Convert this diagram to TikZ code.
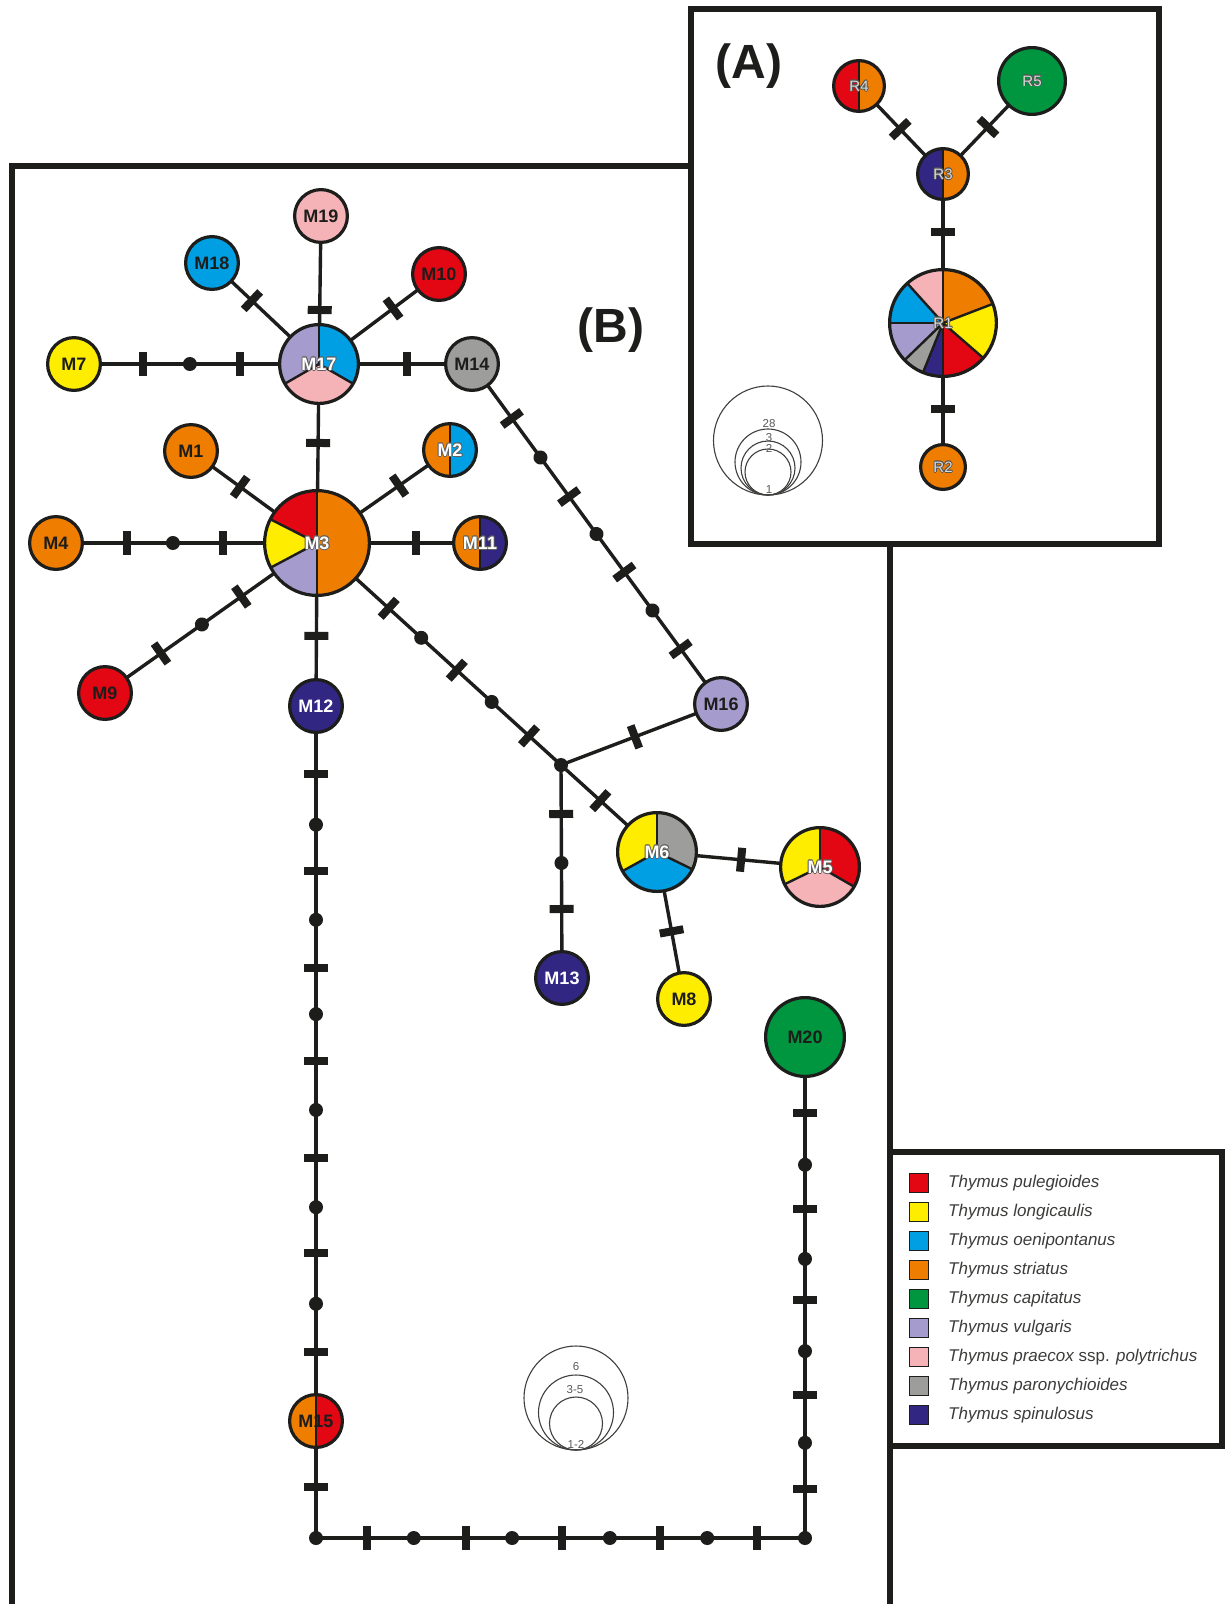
\documentclass[tikz,border=0pt]{standalone}
\usepackage{fontspec}
\setmainfont{Liberation Sans}
\usetikzlibrary{decorations.markings}
\pgfdeclarelayer{bg}
\pgfsetlayers{bg,main}
\definecolor{ink}{HTML}{1D1D1B}
\definecolor{cred}{HTML}{E30613}
\definecolor{cyel}{HTML}{FFED00}
\definecolor{cblue}{HTML}{009FE3}
\definecolor{cora}{HTML}{EF7D00}
\definecolor{cgreen}{HTML}{009640}
\definecolor{clav}{HTML}{A59CCD}
\definecolor{cpink}{HTML}{F5B3B8}
\definecolor{cgray}{HTML}{9D9D9C}
\definecolor{cnavy}{HTML}{312783}
\definecolor{legtext}{HTML}{3C3C3B}
\newcommand\halo[3]{%
  \setbox0=\hbox{#3}%
  \leavevmode\hbox to \wd0{%
    \rlap{\color{#1}\kern.9pt\copy0}%
    \rlap{\color{#1}\kern-.9pt\copy0}%
    \rlap{\color{#1}\raise.9pt\copy0}%
    \rlap{\color{#1}\lower.9pt\copy0}%
    \rlap{\color{#1}\kern.65pt\raise.65pt\copy0}%
    \rlap{\color{#1}\kern-.65pt\raise.65pt\copy0}%
    \rlap{\color{#1}\kern.65pt\lower.65pt\copy0}%
    \rlap{\color{#1}\kern-.65pt\lower.65pt\copy0}%
    \rlap{\color{#2}\copy0}\hfil}}
\begin{document}
\begin{tikzpicture}[x=1pt,y=-1pt,
  hap/.style={circle, draw=ink, line width=3.2pt, inner sep=0pt,
    font=\fontsize{18}{18}\selectfont\bfseries, text=ink},
  sm/.style={minimum size=52.8pt},
  md/.style={minimum size=78.8pt},
  bigm/.style={minimum size=104.8pt},
  rsm/.style={minimum size=50.8pt, font=\fontsize{15}{15}\selectfont},
  rbig/.style={minimum size=106.8pt, font=\fontsize{15}{15}\selectfont},
  rfive/.style={minimum size=66.8pt, font=\fontsize{15}{15}\selectfont},
  rtwo/.style={minimum size=44.8pt, font=\fontsize{15}{15}\selectfont},
  pie/.style={path picture={
    \foreach \sa/\sb/\sc in {#1} {
      \fill[\sc] (path picture bounding box.center) -- ++(\sa:80pt)
        arc[start angle=\sa, end angle=\sb, radius=80pt] -- cycle;}
    \foreach \sa/\sb/\sc in {#1} {
      \draw[ink, line width=2.4pt] (path picture bounding box.center) -- ++(\sa:80pt);}
  }},
  jdot/.style={circle, fill=ink, inner sep=0pt, minimum size=14pt},
  edge/.style={draw=ink, line width=3.4pt},
  barat/.style={postaction={decorate, decoration={markings,
    mark=at position #1 with {\fill[ink] (-4pt,-12pt) rectangle (4pt,12pt);}}}},
  dotat/.style={postaction={decorate, decoration={markings,
    mark=at position #1 with {\fill[ink] (0pt,0pt) circle[radius=7pt];}}}},
  boxl/.style={draw=ink, line width=5.5pt},
  lc/.style={draw=ink!85, line width=1.1pt},
  sizelab/.style={font=\fontsize{11.5}{12}\selectfont, text=black!65, inner sep=0pt},
  lsq/.style={draw=ink, line width=1.5pt, minimum size=19pt, inner sep=0pt},
  ltxt/.style={anchor=west, inner sep=0pt, text=legtext,
    font=\fontsize{17}{17}\selectfont\itshape},
  panel/.style={font=\fontsize{48}{48}\selectfont\bfseries, text=ink, inner sep=0pt}
]
\useasboundingbox (0,0) rectangle (1226,1604);
\begin{pgfonlayer}{bg}
\fill[white] (0,0) rectangle (1226,1604);
\end{pgfonlayer}

% ---------- frames ----------
\draw[boxl] (12,1604) -- (12,166) -- (691,166);
\draw[boxl] (691,9) rectangle (1159,544);
\draw[boxl] (890,544) -- (890,1604);
\draw[boxl] (890,1152) rectangle (1222,1446);

\node[panel] (labA) at (749,66) {(A)};
\node[panel] (labB) at (611,330) {(B)};

% ---------- panel B haplotypes ----------
\node[hap,sm,fill=cpink] (M19) at (321,216) {M19};
\node[hap,sm,fill=cblue] (M18) at (212,263) {M18};
\node[hap,sm,fill=cred] (M10) at (439,274) {M10};
\node[hap,sm,fill=cyel] (M7) at (74,364) {M7};
\node[hap,md,pie={90/210/clav,210/330/cpink,330/450/cblue}] (M17) at (319,364) {\halo{ink!70}{white}{M17}};
\node[hap,sm,fill=cgray] (M14) at (472,364) {M14};
\node[hap,sm,fill=cora] (M1) at (191,451) {M1};
\node[hap,sm,pie={90/270/cora,270/450/cblue}] (M2) at (450,450) {\halo{ink!70}{white}{M2}};
\node[hap,bigm,pie={90/153/cred,153/208/cyel,208/270/clav,270/450/cora}] (M3) at (317,543) {\halo{ink!70}{white}{M3}};
\node[hap,sm,fill=cora] (M4) at (56,543) {M4};
\node[hap,sm,pie={90/270/cora,270/450/cnavy}] (M11) at (480,543) {\halo{ink!70}{white}{M11}};
\node[hap,sm,fill=cred] (M9) at (105,693) {M9};
\node[hap,sm,fill=cnavy,text=white] (M12) at (316,706) {M12};
\node[hap,sm,fill=clav] (M16) at (721,704) {M16};
\node[jdot] (J) at (561,765) {};
\node[hap,md,pie={90/209/cyel,209/334/cblue,334/450/cgray}] (M6) at (657,852) {\halo{ink!70}{white}{M6}};
\node[hap,md,pie={90/206/cyel,206/330/cpink,330/450/cred}] (M5) at (820,867) {\halo{ink!70}{white}{M5}};
\node[hap,sm,fill=cnavy,text=white] (M13) at (562,978) {M13};
\node[hap,sm,fill=cyel] (M8) at (684,999) {M8};
\node[hap,md,fill=cgreen] (M20) at (805,1037) {M20};
\node[hap,sm,pie={90/270/cora,270/450/cred}] (M15) at (316,1421) {M15};
\node[jdot] (C1) at (316,1538) {};
\node[jdot] (C2) at (805,1538) {};

% ---------- panel A haplotypes ----------
\node[hap,rsm,pie={90/270/cred,270/450/cora}] (R4) at (859,86) {\halo{ink!75}{black!15}{R4}};
\node[hap,rfive,fill=cgreen] (R5) at (1032,81) {\halo{ink!75}{black!15}{R5}};
\node[hap,rsm,pie={90/270/cnavy,270/450/cora}] (R3) at (943,174) {\halo{ink!75}{black!15}{R3}};
\node[hap,rbig,pie={90/132/cpink,132/180/cblue,180/224/clav,224/248/cgray,248/270/cnavy,270/319/cred,319/381/cyel,381/450/cora}] (R1) at (943,323) {\halo{ink!75}{black!15}{R1}};
\node[hap,rtwo,fill=cora] (R2) at (943,467) {\halo{ink!75}{black!15}{R2}};

% ---------- connectors ----------
\begin{pgfonlayer}{bg}
\draw[edge,barat=.365] (M17.center) -- (M19.center);
\draw[edge,barat=.627] (M17.center) -- (M18.center);
\draw[edge,barat=.617] (M17.center) -- (M10.center);
\draw[edge,barat=.322,dotat=.527,barat=.718] (M17.center) -- (M7.center);
\draw[edge,barat=.575] (M17.center) -- (M14.center);
\draw[edge,barat=.559] (M3.center) -- (M17.center);
\draw[edge,barat=.61] (M3.center) -- (M1.center);
\draw[edge,barat=.617] (M3.center) -- (M2.center);
\draw[edge,barat=.36,dotat=.552,barat=.728] (M3.center) -- (M4.center);
\draw[edge,barat=.607] (M3.center) -- (M11.center);
\draw[edge,barat=.357,dotat=.543,barat=.736] (M3.center) -- (M9.center);
\draw[edge,barat=.57] (M3.center) -- (M12.center);
\draw[edge,barat=.294,dotat=.427,barat=.573,dotat=.716,barat=.869] (M3.center) -- (J.center);
\draw[edge,barat=.462] (J.center) -- (M16.center);
\draw[edge,barat=.41] (J.center) -- (M6.center);
\draw[edge,barat=.23,dotat=.46,barat=.676] (J.center) -- (M13.center);
\draw[edge,barat=.516] (M6.center) -- (M5.center);
\draw[edge,barat=.54] (M6.center) -- (M8.center);
\draw[edge,barat=.16,dotat=.275,barat=.39,dotat=.5,barat=.612,dotat=.725,barat=.838] (M14.center) -- (M16.center);
\draw[edge,barat=.095,dotat=.166,barat=.231,dotat=.299,barat=.366,dotat=.431,barat=.497,dotat=.565,barat=.632,dotat=.701,barat=.765,dotat=.836,barat=.903] (M12.center) -- (M15.center);
\draw[edge,barat=.564] (M15.center) -- (C1.center);
\draw[edge,barat=.104,dotat=.2,barat=.307,dotat=.401,barat=.503,dotat=.601,barat=.703,dotat=.8,barat=.902] (C1.center) -- (C2.center);
\draw[edge,barat=.098,dotat=.19,barat=.285,dotat=.373,barat=.475,dotat=.557,barat=.657,dotat=.745,barat=.848] (C2.center) -- (M20.center);
\draw[edge,barat=.51] (R3.center) -- (R4.center);
\draw[edge,barat=.505] (R3.center) -- (R5.center);
\draw[edge,barat=.39] (R3.center) -- (R1.center);
\draw[edge,barat=.6] (R1.center) -- (R2.center);
\end{pgfonlayer}

% ---------- size legends ----------
\draw[lc] (768,440.5) circle[radius=54.5pt];
\draw[lc] (768,462) circle[radius=33pt];
\draw[lc] (768,468) circle[radius=27pt];
\draw[lc] (768,472) circle[radius=23pt];
\node[sizelab] (a28) at (769,424) {28};
\node[sizelab] (a3) at (769,438) {3};
\node[sizelab] (a2) at (769,448) {2};
\node[sizelab] (a1) at (769,490) {1};

\draw[lc] (576,1398) circle[radius=52pt];
\draw[lc] (576,1412.5) circle[radius=37.5pt];
\draw[lc] (576,1423.5) circle[radius=26.5pt];
\node[sizelab] (b6) at (576,1367) {6};
\node[sizelab] (b35) at (575,1390) {3-5};
\node[sizelab] (b12) at (576,1444) {1-2};

% ---------- colour legend ----------
\node[lsq,fill=cred] (k1) at (919,1183) {};
\node[lsq,fill=cyel] (k2) at (919,1212) {};
\node[lsq,fill=cblue] (k3) at (919,1241) {};
\node[lsq,fill=cora] (k4) at (919,1270) {};
\node[lsq,fill=cgreen] (k5) at (919,1299) {};
\node[lsq,fill=clav] (k6) at (919,1328) {};
\node[lsq,fill=cpink] (k7) at (919,1357) {};
\node[lsq,fill=cgray] (k8) at (919,1386) {};
\node[lsq,fill=cnavy] (k9) at (919,1415) {};
\node[ltxt] (t1) at (948,1183) {Thymus pulegioides};
\node[ltxt] (t2) at (948,1212) {Thymus longicaulis};
\node[ltxt] (t3) at (948,1241) {Thymus oenipontanus};
\node[ltxt] (t4) at (948,1270) {Thymus striatus};
\node[ltxt] (t5) at (948,1299) {Thymus capitatus};
\node[ltxt] (t6) at (948,1328) {Thymus vulgaris};
\node[ltxt] (t7) at (948,1357) {Thymus praecox {\upshape ssp.} polytrichus};
\node[ltxt] (t8) at (948,1386) {Thymus paronychioides};
\node[ltxt] (t9) at (948,1415) {Thymus spinulosus};
\end{tikzpicture}
\end{document}
